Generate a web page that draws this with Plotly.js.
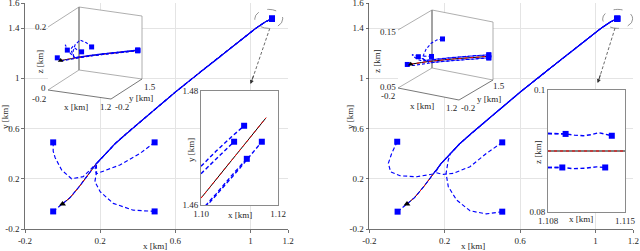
<!DOCTYPE html>
<html><head><meta charset="utf-8">
<script src="https://cdn.plot.ly/plotly-3.0.1.min.js"></script>
<style>html,body{margin:0;padding:0;background:#fff}</style>
</head><body><div id="plot" style="width:640px;height:251px"></div>
<script>
// ---------------- DATA (km) ----------------
// target trajectory (same in both panels)
const targetX = [0, 0.04, 0.09, 0.14, 0.18, 0.23, 0.28, 0.34, 0.45, 0.60, 0.75, 0.90, 0.97, 1.03, 1.08, 1.115];
const targetY = [0, 0.05, 0.14, 0.24, 0.32, 0.40, 0.48, 0.56, 0.70, 0.89, 1.07, 1.25, 1.33, 1.40, 1.45, 1.475];
const targetAlt = 0.09;

// Panel A (left): agent approach segments before they join the target path
const a1x = [-0.05, -0.05, -0.04, -0.005, 0.048, 0.11, 0.146];
const a1y = [0.49, 0.42, 0.37, 0.27, 0.20, 0.217, 0.27];
const a1z = [0.104, 0.11, 0.12, 0.13, 0.125, 0.11, 0.10];
const a2x = [0.49, 0.41, 0.305, 0.217, 0.18, 0.172];
const a2y = [0.49, 0.40, 0.31, 0.257, 0.24, 0.27];
const a2z = [0.125, 0.14, 0.15, 0.135, 0.115, 0.10];
const a3x = [0.49, 0.376, 0.27, 0.20, 0.172, 0.181];
const a3y = [-0.06, -0.05, 0.004, 0.097, 0.177, 0.256];
const a3z = [0.13, 0.135, 0.14, 0.13, 0.115, 0.10];
const a4x = [-0.05];
const a4y = [-0.06];
const a4z = [0.10];
const joinA = [4, 4, 4, 0];
const endAltA = [0.091, 0.091, 0.089, 0.089];

// Panel B (right)
const b1x = [-0.052, -0.081, -0.099, -0.087, -0.037, 0.051, 0.139];
const b1y = [0.495, 0.403, 0.323, 0.256, 0.224, 0.216, 0.238];
const b1z = [0.092, 0.095, 0.098, 0.10, 0.098, 0.095, 0.093];
const b2x = [0.505, 0.422, 0.334, 0.245, 0.192, 0.15];
const b2y = [0.49, 0.403, 0.296, 0.243, 0.235, 0.25];
const b2z = [0.131, 0.13, 0.125, 0.115, 0.105, 0.097];
const b3x = [0.505, 0.42, 0.334, 0.263, 0.219, 0.207, 0.219];
const b3y = [-0.062, -0.08, -0.055, 0.031, 0.137, 0.243, 0.35];
const b3z = [0.112, 0.112, 0.11, 0.105, 0.10, 0.096, 0.093];
const b4x = [-0.05];
const b4y = [-0.062];
const b4z = [0.09];
const joinB = [4, 4, 5, 0];
const endAltB = [0.0926, 0.0926, 0.0874, 0.0874];

// Zoom inset A (x-y near the end)
const zAtx = [1.100, 1.1169];
const zAty = [1.4612, 1.4753];
const zA1x = [1.100, 1.1035, 1.1062, 1.1086];
const zA1y = [1.4655, 1.4678, 1.4696, 1.4711];
const zA2x = [1.100, 1.1040, 1.1080, 1.1112];
const zA2y = [1.4668, 1.4695, 1.4720, 1.4739];
const zA3x = [1.100, 1.1040, 1.1080, 1.1119];
const zA3y = [1.4590, 1.4620, 1.4652, 1.4681];
const zA4x = [1.100, 1.1050, 1.1100, 1.1158];
const zA4y = [1.4587, 1.4625, 1.4664, 1.4711];

// Zoom inset B (x-z near the end)
const zBtx = [1.108, 1.115];
const zBtz = [0.09, 0.09];
const zB1x = [1.108, 1.1088, 1.1096];
const zB1z = [0.0929, 0.0928, 0.0928];
const zB2x = [1.108, 1.1096, 1.1104, 1.1112, 1.1120, 1.1126, 1.1131, 1.1138];
const zB2z = [0.0928, 0.0928, 0.0926, 0.0925, 0.0927, 0.0930, 0.0928, 0.0925];
const zB3x = [1.108, 1.1093];
const zB3z = [0.0873, 0.0873];
const zB4x = [1.108, 1.1093, 1.1103, 1.1115, 1.1124, 1.1132];
const zB4z = [0.0873, 0.0873, 0.0871, 0.0872, 0.0874, 0.0873];

// tick labels
const mainXTicks = [-0.2, 0.2, 0.6, 1, 1.2];
const mainXText = ['-0.2', '0.2', '0.6', '1', '1.2'];
const mainYTicks = [-0.2, 0.2, 0.6, 1, 1.4, 1.6];
const mainYText = ['-0.2', '0.2', '0.6', '1', '1.4', '1.6'];

// ---------------- STYLE / LAYOUT ----------------
const FONT = 'Liberation Serif, Times New Roman, serif';
const TXT = '#262626';
const BLUE = '#0000ff';
const W = 640, H = 251;
const mainA = {l: 25, r: 288, t: 3, b: 229};
const mainB = {l: 369.3, r: 633.3, t: 3, b: 229};
const insA = {l: 201, r: 278, t: 91, b: 205};
const insB = {l: 548, r: 625, t: 90, b: 212};
const boxA = {xr: [-0.2, 1.2], yr: [-0.2, 1.5], zr: [0, 0.2], O: [48, 90], ex: [63, 9], ey: [31, -20], ez: [0, -63]};
const boxB = {xr: [-0.2, 1.2], yr: [-0.2, 1.5], zr: [0.05, 0.15], O: [398, 88], ex: [61, 12], ey: [34, -20], ez: [0, -58]};

function dom(p) { return {x: [p.l / W, p.r / W], y: [1 - p.b / H, 1 - p.t / H]}; }
function proj(box, x, y, z) {
  const u = (x - box.xr[0]) / (box.xr[1] - box.xr[0]);
  const v = (y - box.yr[0]) / (box.yr[1] - box.yr[0]);
  const w = (z - box.zr[0]) / (box.zr[1] - box.zr[0]);
  return [box.O[0] + u * box.ex[0] + v * box.ey[0] + w * box.ez[0],
          box.O[1] + u * box.ex[1] + v * box.ey[1] + w * box.ez[1]];
}
function corner(box, u, v, w) {
  return [box.O[0] + u * box.ex[0] + v * box.ey[0] + w * box.ez[0],
          box.O[1] + u * box.ex[1] + v * box.ey[1] + w * box.ez[1]];
}
function projPath(box, xs, ys, zs) {
  const px = [], py = [];
  for (let i = 0; i < xs.length; i++) { const p = proj(box, xs[i], ys[i], zs[i]); px.push(p[0]); py.push(p[1]); }
  return {x: px, y: py};
}
function agentPath(ax, ay, az, join, endAlt) {
  const tx = targetX.slice(join), ty = targetY.slice(join);
  return {x: ax.concat(tx), y: ay.concat(ty), z: az.concat(tx.map(() => endAlt))};
}

const traces = [];
function line(xs, ys, xa, ya, color, width, dash) {
  traces.push({type: 'scatter', mode: 'lines', x: xs, y: ys, xaxis: xa, yaxis: ya,
    line: {color: color, width: width, dash: dash || 'solid'}, hoverinfo: 'skip', showlegend: false});
}
function marks(xs, ys, xa, ya, symbol, color, size) {
  traces.push({type: 'scatter', mode: 'markers', x: xs, y: ys, xaxis: xa, yaxis: ya, cliponaxis: false,
    marker: {symbol: symbol, color: color, size: size, line: {width: 0}}, hoverinfo: 'skip', showlegend: false});
}
const TDASH = '3px,3px', ADASH = '4px,2.5px';

// ---- main panels ----
const panels = [
  {xa: 'x', ya: 'y', ag: [[a1x, a1y, a1z], [a2x, a2y, a2z], [a3x, a3y, a3z], [a4x, a4y, a4z]], join: joinA, alt: endAltA, box: boxA},
  {xa: 'x2', ya: 'y2', ag: [[b1x, b1y, b1z], [b2x, b2y, b2z], [b3x, b3y, b3z], [b4x, b4y, b4z]], join: joinB, alt: endAltB, box: boxB}
];
panels.forEach(P => {
  line(targetX, targetY, P.xa, P.ya, '#000', 1);
  line(targetX, targetY, P.xa, P.ya, '#ff0000', 1, TDASH);
  P.paths = P.ag.map((a, i) => agentPath(a[0], a[1], a[2], P.join[i], P.alt[i]));
  P.paths.forEach(p => line(p.x, p.y, P.xa, P.ya, BLUE, 1.15, ADASH));
  marks(P.paths.map(p => p.x[0]), P.paths.map(p => p.y[0]), P.xa, P.ya, 'square', BLUE, 6);
  marks(P.paths.map(p => p.x[p.x.length - 1]), P.paths.map(p => p.y[p.y.length - 1]), P.xa, P.ya, 'square', BLUE, 6);
  marks([targetX[0]], [targetY[0]], P.xa, P.ya, 'triangle-up', '#000', 6);
});

// ---- pixel overlay (x3,y3): masks + 3D insets ----
[insA, insB].forEach(r => {
  traces.push({type: 'scatter', mode: 'lines', x: [r.l, r.r, r.r, r.l, r.l], y: [r.t, r.t, r.b, r.b, r.t],
    xaxis: 'x3', yaxis: 'y3', fill: 'toself', fillcolor: '#fff', line: {width: 0, color: 'rgba(0,0,0,0)'}, hoverinfo: 'skip', showlegend: false});
});
const annotations = [];
function ann(x, y, text, extra) {
  annotations.push(Object.assign({x: x, y: y, xref: 'x3', yref: 'y3', text: text, showarrow: false,
    font: {family: FONT, size: 9, color: TXT}, xanchor: 'center', yanchor: 'middle'}, extra || {}));
}
panels.forEach(P => {
  const b = P.box;
  const hexC = [[0,0,0],[0,0,1],[0,1,1],[1,1,1],[1,1,0],[1,0,0],[0,0,0]].map(c => corner(b, c[0], c[1], c[2]));
  traces.push({type: 'scatter', mode: 'lines', x: hexC.map(p => p[0]), y: hexC.map(p => p[1]), xaxis: 'x3', yaxis: 'y3',
    fill: 'toself', fillcolor: '#fff', line: {width: 0, color: 'rgba(0,0,0,0)'}, hoverinfo: 'skip', showlegend: false});
  const seg = (list) => { const xs = [], ys = []; list.forEach(s => { s.forEach(c => { const p = corner(b, c[0], c[1], c[2]); xs.push(p[0]); ys.push(p[1]); }); xs.push(null); ys.push(null); }); return {x: xs, y: ys}; };
  const back = seg([[[0,0,1],[0,1,1],[1,1,1]], [[1,1,0],[1,1,1]], [[0,0,0],[0,1,0],[1,1,0]]]);
  line(back.x, back.y, 'x3', 'y3', '#9a9a9a', 0.8);
  const vert = seg([[[0,1,0],[0,1,1]]]);
  line(vert.x, vert.y, 'x3', 'y3', '#8c8c8c', 1.6);
  const front = seg([[[0,0,0],[1,0,0],[1,1,0]]]);
  line(front.x, front.y, 'x3', 'y3', '#555', 0.8);
  const tz = targetX.map(() => targetAlt);
  const tp = projPath(b, targetX, targetY, tz);
  line(tp.x, tp.y, 'x3', 'y3', '#000', 1);
  line(tp.x, tp.y, 'x3', 'y3', '#ff0000', 1, TDASH);
  const pp = P.paths.map(p => projPath(b, p.x, p.y, p.z));
  pp.forEach(p => line(p.x, p.y, 'x3', 'y3', BLUE, 1.1, '3px,2px'));
  marks(pp.map(p => p.x[0]), pp.map(p => p.y[0]), 'x3', 'y3', 'square', BLUE, 5);
  marks(pp.map(p => p.x[p.x.length - 1]), pp.map(p => p.y[p.y.length - 1]), 'x3', 'y3', 'square', BLUE, 5);
  marks([tp.x[0]], [tp.y[0]], 'x3', 'y3', 'triangle-up', '#000', 5);
});
// 3D inset labels
(function () {
  const add = (b, c, off, t, ex) => { const p = corner(b, c[0], c[1], c[2]); ann(p[0] + off[0], p[1] + off[1], t, ex); };
  const mid = (b, c1, c2, off, t, ex) => { const p = corner(b, c1[0], c1[1], c1[2]), q = corner(b, c2[0], c2[1], c2[2]); ann((p[0] + q[0]) / 2 + off[0], (p[1] + q[1]) / 2 + off[1], t, ex); };
  let b = boxA;
  add(b, [0,0,0], [-9, 9], '-0.2'); add(b, [1,0,0], [-6, 8], '1.2'); mid(b, [0,0,0], [1,0,0], [-4, 12], 'x [km]');
  add(b, [1,0,0], [11, 8], '-0.2'); add(b, [1,1,0], [8, 8], '1.5'); mid(b, [1,0,0], [1,1,0], [14, 9], 'y [km]');
  add(b, [0,0,0], [-5, -2], '0'); add(b, [0,0,1], [-8, 0], '0.2'); mid(b, [0,0,0], [0,0,1], [-9, 3], 'z [km]', {textangle: -90});
  b = boxB;
  add(b, [0,0,0], [-10, 8], '-0.2'); add(b, [1,0,0], [-8, 8], '1.2'); mid(b, [0,0,0], [1,0,0], [-7, 12], 'x [km]');
  add(b, [1,0,0], [9, 8], '-0.2'); add(b, [1,1,0], [6, 6], '1.5'); mid(b, [1,0,0], [1,1,0], [13, 9], 'y [km]');
  add(b, [0,0,0], [-10, -1], '0.05'); add(b, [0,0,1], [-10, 2], '0.15'); mid(b, [0,0,0], [0,0,1], [-21, 2], 'z [km]', {textangle: -90});
})();

// ---- zoom insets ----
line(zAtx, zAty, 'x4', 'y4', '#000', 1);
line(zAtx, zAty, 'x4', 'y4', '#ff0000', 1, TDASH);
[[zA1x, zA1y], [zA2x, zA2y], [zA3x, zA3y], [zA4x, zA4y]].forEach(a => line(a[0], a[1], 'x4', 'y4', BLUE, 1.4, ADASH));
marks([zA1x, zA2x, zA3x, zA4x].map(a => a[a.length - 1]), [zA1y, zA2y, zA3y, zA4y].map(a => a[a.length - 1]), 'x4', 'y4', 'square', BLUE, 6);
line(zBtx, zBtz, 'x5', 'y5', '#000', 1);
line(zBtx, zBtz, 'x5', 'y5', '#ff0000', 1, TDASH);
[[zB1x, zB1z], [zB2x, zB2z], [zB3x, zB3z], [zB4x, zB4z]].forEach(a => line(a[0], a[1], 'x5', 'y5', BLUE, 1.4, ADASH));
marks([zB1x, zB2x, zB3x, zB4x].map(a => a[a.length - 1]), [zB1z, zB2z, zB3z, zB4z].map(a => a[a.length - 1]), 'x5', 'y5', 'square', BLUE, 6);

// ---- axes ----
const tf = {family: FONT, size: 9, color: TXT};
function mainAx(d, range, tv, tt, anchor) {
  return {domain: d, range: range, tickvals: tv, ticktext: tt, showgrid: true, gridcolor: '#e4e4e4', gridwidth: 1,
    showline: true, linecolor: '#4d4d4d', linewidth: 0.8, ticks: 'outside', ticklen: 3, tickcolor: '#4d4d4d', tickwidth: 0.8,
    tickfont: tf, zeroline: false, anchor: anchor, fixedrange: true, ticklabeloverflow: 'allow'};
}
function insAx(d, range, tv, tt, anchor) {
  return {domain: d, range: range, tickvals: tv, ticktext: tt, showgrid: false, showline: true, mirror: true,
    linecolor: '#8a8a8a', linewidth: 1, ticks: 'inside', ticklen: 2, tickcolor: '#8a8a8a',
    tickfont: tf, zeroline: false, anchor: anchor, fixedrange: true};
}
const dA = dom(mainA), dB = dom(mainB), dIA = dom(insA), dIB = dom(insB);
const layout = {
  width: W, height: H, margin: {l: 0, r: 0, t: 0, b: 0}, paper_bgcolor: '#fff', plot_bgcolor: 'rgba(0,0,0,0)', showlegend: false,
  xaxis: mainAx(dA.x, [-0.2, 1.2], mainXTicks, mainXText, 'y'),
  yaxis: mainAx(dA.y, [-0.2, 1.6], mainYTicks, mainYText, 'x'),
  xaxis2: mainAx(dB.x, [-0.2, 1.2], mainXTicks, mainXText, 'y2'),
  yaxis2: mainAx(dB.y, [-0.2, 1.6], mainYTicks, mainYText, 'x2'),
  xaxis3: {domain: [0, 1], range: [0, W], visible: false, anchor: 'y3', fixedrange: true},
  yaxis3: {domain: [0, 1], range: [H, 0], visible: false, anchor: 'x3', fixedrange: true},
  xaxis4: insAx(dIA.x, [1.10, 1.12], [1.10, 1.12], ['1.10', '1.12'], 'y4'),
  yaxis4: insAx(dIA.y, [1.46, 1.48], [1.46, 1.48], ['1.46', '1.48'], 'x4'),
  xaxis5: insAx(dIB.x, [1.108, 1.115], [1.108, 1.115], ['1.108', '1.115'], 'y5'),
  yaxis5: insAx(dIB.y, [0.08, 0.1], [0.08, 0.1], ['0.08', '0.1'], 'x5'),
  shapes: [
    {type: 'circle', xref: 'x', yref: 'y', x0: 1.023, x1: 1.172, y0: 1.398, y1: 1.549, line: {color: '#7a7a7a', width: 0.8, dash: 'dash'}},
    {type: 'circle', xref: 'x2', yref: 'y2', x0: 1.0375, x1: 1.197, y0: 1.398, y1: 1.549, line: {color: '#7a7a7a', width: 0.8, dash: 'dash'}},
    {type: 'line', xref: 'x', yref: 'y', x0: 1.103, y0: 1.398, x1: 1.004, y1: 0.965, line: {color: '#444', width: 0.8, dash: '3px,2px'}},
    {type: 'line', xref: 'x2', yref: 'y2', x0: 1.103, y0: 1.40, x1: 1.014, y1: 0.972, line: {color: '#444', width: 0.8, dash: '3px,2px'}}
  ],
  annotations: annotations.concat([
    {x: 1.0005, y: 0.954, xref: 'x', yref: 'y', ax: 3.5, ay: -10, text: '', showarrow: true, arrowhead: 2, arrowsize: 1, arrowwidth: 0.8, arrowcolor: '#333'},
    {x: 1.011, y: 0.962, xref: 'x2', yref: 'y2', ax: 3.2, ay: -10, text: '', showarrow: true, arrowhead: 2, arrowsize: 1, arrowwidth: 0.8, arrowcolor: '#333'},
    {x: 155, y: 246, xref: 'x3', yref: 'y3', text: 'x [km]', showarrow: false, font: tf},
    {x: 473, y: 246, xref: 'x3', yref: 'y3', text: 'x [km]', showarrow: false, font: tf},
    {x: 5, y: 117, xref: 'x3', yref: 'y3', text: 'y [km]', showarrow: false, font: tf, textangle: -90},
    {x: 350, y: 117, xref: 'x3', yref: 'y3', text: 'y [km]', showarrow: false, font: tf, textangle: -90},
    {x: 240, y: 215, xref: 'x3', yref: 'y3', text: 'x [km]', showarrow: false, font: tf},
    {x: 191, y: 150, xref: 'x3', yref: 'y3', text: 'y [km]', showarrow: false, font: tf, textangle: -90},
    {x: 581, y: 219, xref: 'x3', yref: 'y3', text: 'x [km]', showarrow: false, font: tf},
    {x: 538, y: 152, xref: 'x3', yref: 'y3', text: 'z [km]', showarrow: false, font: tf, textangle: -90}
  ])
};
Plotly.newPlot('plot', traces, layout, {staticPlot: true, displayModeBar: false});
</script>
</body></html>
